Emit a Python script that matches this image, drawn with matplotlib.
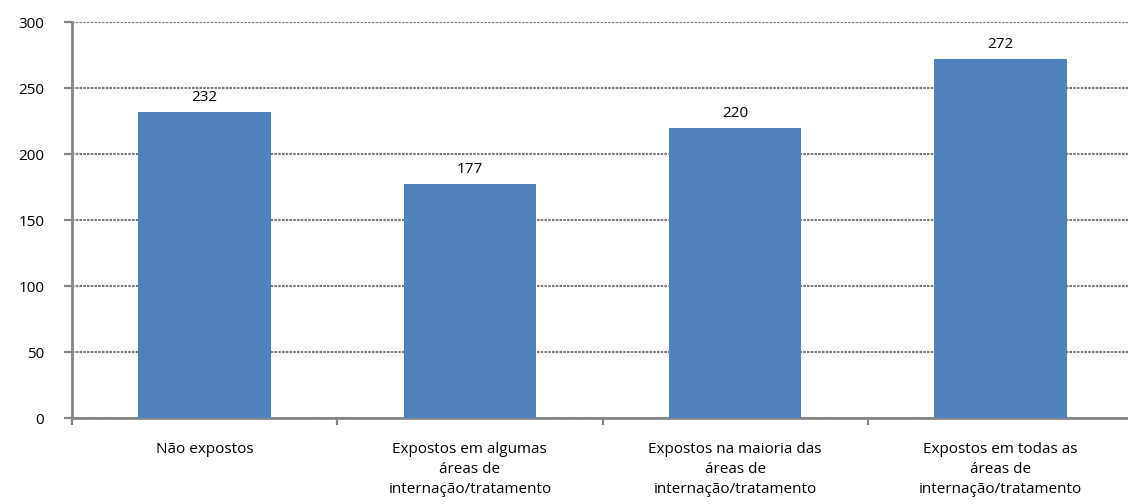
import matplotlib

matplotlib.use("Agg")

import matplotlib.pyplot as plt
import numpy as np

CATEGORIES = [
    "Não expostos",
    "Expostos em algumas\náreas de\ninternação/tratamento",
    "Expostos na maioria das\náreas de\ninternação/tratamento",
    "Expostos em todas as\náreas de\ninternação/tratamento",
]
VALUES = [232, 177, 220, 272]
Y_TICKS = [0, 50, 100, 150, 200, 250, 300]

BAR_COLOR = "#4F81BD"
AXIS_COLOR = "#868686"

plt.rcParams["font.family"] = ["Open Sans", "DejaVu Sans"]

fig = plt.figure(figsize=(11.28, 5.04), dpi=100)
ax = fig.add_axes([72 / 1128, 1 - 418 / 504, 1061 / 1128, 396 / 504])

x = np.arange(len(VALUES))
ax.bar(x, VALUES, width=0.5, color=BAR_COLOR, zorder=3)
for xi, v in zip(x, VALUES):
    ax.annotate(str(v), (xi, v), xytext=(0, 5), textcoords="offset points",
                ha="center", va="bottom", fontsize=11)

ax.set_xlim(-0.5, len(VALUES) - 0.5)
ax.set_ylim(0, 300)
ax.set_yticks(Y_TICKS)
ax.yaxis.grid(True, color="#7a7a7a", linestyle=(0, (1.2, 0.6)), linewidth=1.5, zorder=0)

ax.set_xticks(x)
ax.set_xticklabels(CATEGORIES, fontsize=11, linespacing=1.45)
ax.set_xticks(np.arange(-0.5, len(VALUES) + 0.5, 1.0), minor=True)
ax.tick_params(axis="x", which="major", length=0, pad=17)
ax.tick_params(axis="x", which="minor", length=5, width=1.6, color=AXIS_COLOR)
ax.tick_params(axis="y", length=6, width=1.6, color=AXIS_COLOR, labelsize=11, pad=14)

for side in ("top", "right"):
    ax.spines[side].set_visible(False)
for side in ("left", "bottom"):
    ax.spines[side].set_color(AXIS_COLOR)
    ax.spines[side].set_linewidth(2.0)

fig.savefig("out.png", dpi=100)
